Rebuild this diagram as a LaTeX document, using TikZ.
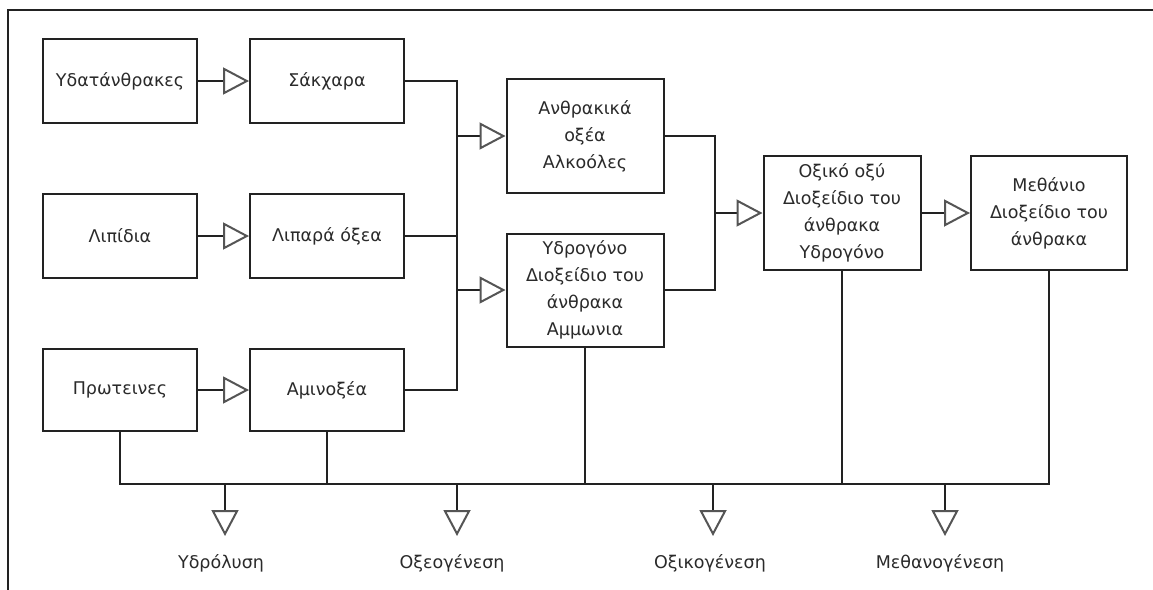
\documentclass[tikz,border=0pt]{standalone}
\usepackage{fontspec}
\setmainfont{DejaVu Sans}
\usetikzlibrary{arrows.meta}
\definecolor{ink}{HTML}{222222}
\definecolor{txt}{HTML}{2a2a2a}
\definecolor{tipc}{HTML}{555555}
\tikzset{
  box/.style={draw=ink, line width=2pt, fill=white, align=center, text=txt,
    font=\fontsize{17.5}{27}\selectfont, inner sep=0pt},
  wire/.style={draw=ink, line width=2pt},
  flow/.style={wire, -{Triangle[open, length=26pt, width=27pt, color=tipc, fill=white]}},
  lab/.style={text=txt, font=\fontsize{17.5}{20}\selectfont, inner sep=0pt},
}
\begin{document}
\begin{tikzpicture}[x=1pt, y=-1pt]
\useasboundingbox (0,0) rectangle (1153,589);
\draw[ink, line width=2.5pt] (8,600) -- (8,10) -- (1170,10);
% column 1
\node[box, minimum width=154pt, minimum height=84pt] (h1) at (120,81) {Υδατάνθρακες};
\node[box, minimum width=154pt, minimum height=84pt] (h2) at (120,236) {Λιπίδια};
\node[box, minimum width=154pt, minimum height=82pt] (h3) at (120,390) {Πρωτεινες};
% column 2
\node[box, minimum width=154pt, minimum height=84pt] (s1) at (327,81) {Σάκχαρα};
\node[box, minimum width=154pt, minimum height=84pt] (s2) at (327,236) {Λιπαρά όξεα};
\node[box, minimum width=154pt, minimum height=82pt] (s3) at (327,390) {Αμινοξέα};
% column 3
\node[box, minimum width=157pt, minimum height=114pt] (c1) at (585,136) {Ανθρακικά\\οξέα\\Αλκοόλες};
\node[box, minimum width=157pt, minimum height=113pt] (c2) at (585,290) {Υδρογόνο\\Διοξείδιο του\\άνθρακα\\Αμμωνια};
% column 4,5
\node[box, minimum width=157pt, minimum height=114pt] (d) at (842,213) {Οξικό οξύ\\Διοξείδιο του\\άνθρακα\\Υδρογόνο};
\node[box, minimum width=156pt, minimum height=114pt] (e) at (1049,213) {Μεθάνιο\\Διοξείδιο του\\άνθρακα};
% junction coordinates
\coordinate (j1) at (457,81);
\coordinate (j2) at (457,236);
\coordinate (j3) at (457,390);
\coordinate (ja) at (457,136);
\coordinate (jb) at (457,290);
\coordinate (k1) at (715,136);
\coordinate (k2) at (715,290);
\coordinate (km) at (715,213);
% arrows row
\draw[flow] (h1.east) -- (s1.west);
\draw[flow] (h2.east) -- (s2.west);
\draw[flow] (h3.east) -- (s3.west);
\draw[wire] (s1.east) -- (j1) -- (j3) -- (s3.east);
\draw[wire] (s2.east) -- (j2);
\draw[flow] (ja) -- (c1.west);
\draw[flow] (jb) -- (c2.west);
\draw[wire] (c1.east) -- (k1) -- (k2) -- (c2.east);
\draw[flow] (km) -- (d.west);
\draw[flow] (d.east) -- (e.west);
% bus
\coordinate (b0) at (120,484);
\coordinate (b5) at (1049,484);
\draw[wire] (h3.south) -- (b0) -- (b5) -- (e.south);
\draw[wire] (s3.south) -- (s3.south |- b0);
\draw[wire] (c2.south) -- (c2.south |- b0);
\draw[wire] (d.south) -- (d.south |- b0);
% outputs
\coordinate (o1) at (225,484); \coordinate (t1) at (225,536);
\coordinate (o2) at (457,484); \coordinate (t2) at (457,536);
\coordinate (o3) at (713,484); \coordinate (t3) at (713,536);
\coordinate (o4) at (945,484); \coordinate (t4) at (945,536);
\draw[flow] (o1) -- (t1);
\draw[flow] (o2) -- (t2);
\draw[flow] (o3) -- (t3);
\draw[flow] (o4) -- (t4);
\node[lab] (l1) at (221,563) {Υδρόλυση};
\node[lab] (l2) at (452,563) {Οξεογένεση};
\node[lab] (l3) at (710,563) {Οξικογένεση};
\node[lab] (l4) at (940,563) {Μεθανογένεση};
\end{tikzpicture}
\end{document}
